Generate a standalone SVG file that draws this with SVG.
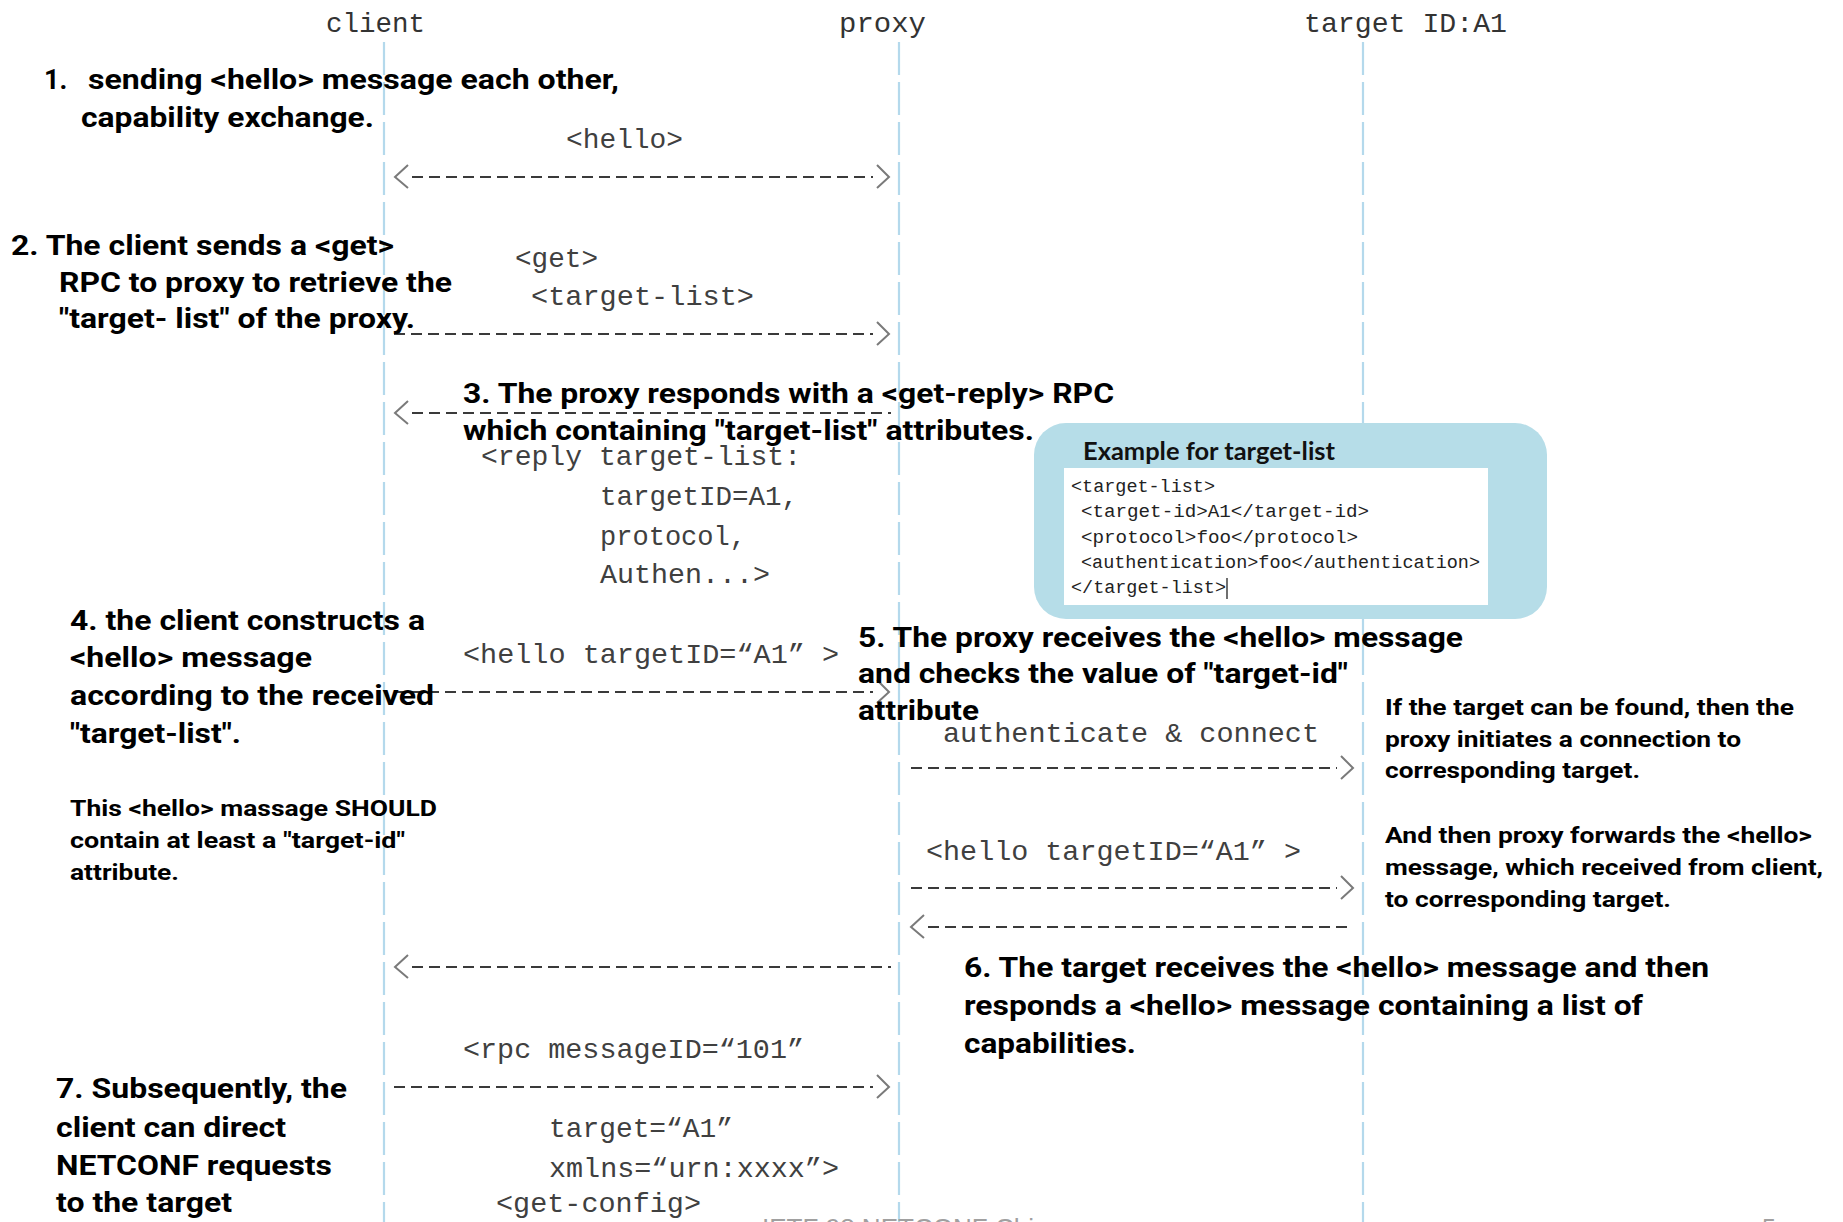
<svg xmlns="http://www.w3.org/2000/svg" width="1843" height="1222" viewBox="0 0 1843 1222">
<style>
.life{stroke:#b4d9ec;stroke-width:2.2;stroke-dasharray:33 7;fill:none}
.dash{stroke:#3a3a3a;stroke-width:2;stroke-dasharray:11 6;fill:none}
.chev{stroke:#7a7a7a;stroke-width:2;fill:none;stroke-linejoin:miter}
.mono{font-family:"Liberation Mono","DejaVu Sans Mono",monospace;font-size:28px;fill:#404040}
.hdr{font-family:"Liberation Mono","DejaVu Sans Mono",monospace;font-size:28px;fill:#333}
.step{font-family:Roboto,"Liberation Sans",sans-serif;font-weight:700;font-size:27px;fill:#000}
.note{font-family:Roboto,"Liberation Sans",sans-serif;font-weight:700;font-size:22px;fill:#000}
.code{font-family:"Liberation Mono","DejaVu Sans Mono",monospace;font-size:18.5px;fill:#222}
.title{font-family:Lato,"Open Sans","Liberation Sans",sans-serif;font-weight:700;font-size:24px;fill:#111}
.foot{font-family:"Liberation Sans",Arial,sans-serif;font-size:25px;fill:#a0a0a0}
</style>
<rect width="1843" height="1222" fill="#fff"/>

<g id="client">
<line class="life" x1="384" y1="42" x2="384" y2="1222"/>
<text class="hdr" x="326" y="32" textLength="99" lengthAdjust="spacingAndGlyphs">client</text>
</g>
<g id="proxy">
<line class="life" x1="899" y1="42" x2="899" y2="1222"/>
<text class="hdr" x="839" y="32" textLength="87" lengthAdjust="spacingAndGlyphs">proxy</text>
</g>
<g id="target">
<line class="life" x1="1363" y1="42" x2="1363" y2="1222"/>
<text class="hdr" x="1304" y="32" textLength="203" lengthAdjust="spacingAndGlyphs">target ID:A1</text>
</g>

<g id="connectors">
<!-- 1 hello bidirectional -->
<polyline class="chev" points="408,165 395,177 408,188"/>
<line class="dash" x1="412" y1="177" x2="873" y2="177"/>
<polyline class="chev" points="877,165 889,177 877,188"/>
<!-- 2 get right -->
<line class="dash" x1="394" y1="334" x2="873" y2="334"/>
<polyline class="chev" points="877,322 889,334 877,345"/>
<!-- 3 reply left -->
<polyline class="chev" points="408,401 395,413 408,424"/>
<line class="dash" x1="412" y1="413" x2="891" y2="413"/>
<!-- 4 hello target right -->
<line class="dash" x1="394" y1="692" x2="873" y2="692"/>
<polyline class="chev" points="877,680 889,692 877,703"/>
<!-- 5 authenticate right (proxy->target) -->
<line class="dash" x1="911" y1="768" x2="1337" y2="768"/>
<polyline class="chev" points="1341,756 1353,768 1341,779"/>
<!-- 6 hello forwarded right -->
<line class="dash" x1="911" y1="888" x2="1337" y2="888"/>
<polyline class="chev" points="1341,876 1353,888 1341,899"/>
<!-- 7 target reply left -->
<polyline class="chev" points="924,915 911,927 924,938"/>
<line class="dash" x1="928" y1="927" x2="1353" y2="927"/>
<!-- 8 proxy to client left -->
<polyline class="chev" points="408,955 395,967 408,978"/>
<line class="dash" x1="412" y1="967" x2="891" y2="967"/>
<!-- 9 rpc right -->
<line class="dash" x1="394" y1="1087" x2="873" y2="1087"/>
<polyline class="chev" points="877,1075 889,1087 877,1098"/>
</g>

<g id="msg-labels">
<text class="mono" x="566" y="148" textLength="117" lengthAdjust="spacingAndGlyphs">&lt;hello&gt;</text>
<text class="mono" x="515" y="267" textLength="83" lengthAdjust="spacingAndGlyphs">&lt;get&gt;</text>
<text class="mono" x="531" y="305" textLength="223" lengthAdjust="spacingAndGlyphs">&lt;target-list&gt;</text>
<text class="mono" x="481" y="465" textLength="320" lengthAdjust="spacingAndGlyphs">&lt;reply target-list:</text>
<text class="mono" x="600" y="505" textLength="198" lengthAdjust="spacingAndGlyphs">targetID=A1,</text>
<text class="mono" x="600" y="545" textLength="146" lengthAdjust="spacingAndGlyphs">protocol,</text>
<text class="mono" x="600" y="583" textLength="170" lengthAdjust="spacingAndGlyphs">Authen...&gt;</text>
<text class="mono" x="463" y="663" textLength="376" lengthAdjust="spacingAndGlyphs">&lt;hello targetID=“A1” &gt;</text>
<text class="mono" x="943" y="742" textLength="376" lengthAdjust="spacingAndGlyphs">authenticate &amp; connect</text>
<text class="mono" x="926" y="860" textLength="375" lengthAdjust="spacingAndGlyphs">&lt;hello targetID=“A1” &gt;</text>
<text class="mono" x="463" y="1058" textLength="341" lengthAdjust="spacingAndGlyphs">&lt;rpc messageID=“101”</text>
<text class="mono" x="549" y="1137" textLength="184" lengthAdjust="spacingAndGlyphs">target=“A1”</text>
<text class="mono" x="549" y="1177" textLength="290" lengthAdjust="spacingAndGlyphs">xmlns=“urn:xxxx”&gt;</text>
<text class="mono" x="496" y="1212" textLength="205" lengthAdjust="spacingAndGlyphs">&lt;get-config&gt;</text>
</g>

<g id="step1">
<text class="step" y="89"><tspan x="44">1.</tspan><tspan x="88" textLength="531" lengthAdjust="spacingAndGlyphs">sending &lt;hello&gt; message each other,</tspan></text>
<text class="step" x="81" y="127" textLength="293" lengthAdjust="spacingAndGlyphs">capability exchange.</text>
</g>

<g id="step2">
<text class="step" x="11" y="255" textLength="383" lengthAdjust="spacingAndGlyphs">2. The client sends a &lt;get&gt;</text>
<text class="step" x="59" y="292" textLength="393" lengthAdjust="spacingAndGlyphs">RPC to proxy to retrieve the</text>
<text class="step" x="59" y="328" textLength="356" lengthAdjust="spacingAndGlyphs">"target- list" of the proxy.</text>
</g>

<g id="step3">
<text class="step" x="463" y="403" textLength="651" lengthAdjust="spacingAndGlyphs">3. The proxy responds with a &lt;get-reply&gt; RPC</text>
<text class="step" x="463" y="440" textLength="571" lengthAdjust="spacingAndGlyphs">which containing "target-list" attributes.</text>
</g>

<g id="example-box">
<rect x="1034" y="423" width="513" height="196" rx="32" ry="32" fill="#b6dde8"/>
<text class="title" x="1083" y="460" textLength="252" lengthAdjust="spacingAndGlyphs">Example for target-list</text>
<rect x="1064" y="468" width="424" height="137" fill="#fff"/>
<text class="code" x="1071" y="492" textLength="144" lengthAdjust="spacingAndGlyphs">&lt;target-list&gt;</text>
<text class="code" x="1081" y="517" textLength="288" lengthAdjust="spacingAndGlyphs">&lt;target-id&gt;A1&lt;/target-id&gt;</text>
<text class="code" x="1081" y="543" textLength="277" lengthAdjust="spacingAndGlyphs">&lt;protocol&gt;foo&lt;/protocol&gt;</text>
<text class="code" x="1081" y="568" textLength="399" lengthAdjust="spacingAndGlyphs">&lt;authentication&gt;foo&lt;/authentication&gt;</text>
<text class="code" x="1071" y="593" textLength="155" lengthAdjust="spacingAndGlyphs">&lt;/target-list&gt;</text>
<line x1="1227" y1="578" x2="1227" y2="599" stroke="#222" stroke-width="1.3"/>
</g>

<g id="step4">
<text class="step" x="70" y="630" textLength="355" lengthAdjust="spacingAndGlyphs">4. the client constructs a</text>
<text class="step" x="70" y="667" textLength="242" lengthAdjust="spacingAndGlyphs">&lt;hello&gt; message</text>
<text class="step" x="70" y="705" textLength="364" lengthAdjust="spacingAndGlyphs">according to the received</text>
<text class="step" x="70" y="743" textLength="171" lengthAdjust="spacingAndGlyphs">"target-list".</text>
<text class="note" x="70" y="816" textLength="367" lengthAdjust="spacingAndGlyphs">This &lt;hello&gt; massage SHOULD</text>
<text class="note" x="70" y="848" textLength="335" lengthAdjust="spacingAndGlyphs">contain at least a "target-id"</text>
<text class="note" x="70" y="880" textLength="109" lengthAdjust="spacingAndGlyphs">attribute.</text>
</g>

<g id="step5">
<text class="step" x="858" y="647" textLength="605" lengthAdjust="spacingAndGlyphs">5. The proxy receives the &lt;hello&gt; message</text>
<text class="step" x="858" y="683" textLength="490" lengthAdjust="spacingAndGlyphs">and checks the value of "target-id"</text>
<text class="step" x="858" y="720" textLength="121" lengthAdjust="spacingAndGlyphs">attribute</text>
<text class="note" x="1385" y="715" textLength="409" lengthAdjust="spacingAndGlyphs">If the target can be found, then the</text>
<text class="note" x="1385" y="747" textLength="356" lengthAdjust="spacingAndGlyphs">proxy initiates a connection to</text>
<text class="note" x="1385" y="778" textLength="255" lengthAdjust="spacingAndGlyphs">corresponding target.</text>
<text class="note" x="1385" y="843" textLength="427" lengthAdjust="spacingAndGlyphs">And then proxy forwards the &lt;hello&gt;</text>
<text class="note" x="1385" y="875" textLength="438" lengthAdjust="spacingAndGlyphs">message, which received from client,</text>
<text class="note" x="1385" y="907" textLength="286" lengthAdjust="spacingAndGlyphs">to corresponding target.</text>
</g>

<g id="step6">
<text class="step" x="964" y="977" textLength="745" lengthAdjust="spacingAndGlyphs">6. The target receives the &lt;hello&gt; message and then</text>
<text class="step" x="964" y="1015" textLength="679" lengthAdjust="spacingAndGlyphs">responds a &lt;hello&gt; message containing a list of</text>
<text class="step" x="964" y="1053" textLength="172" lengthAdjust="spacingAndGlyphs">capabilities.</text>
</g>

<g id="step7">
<text class="step" x="56" y="1098" textLength="291" lengthAdjust="spacingAndGlyphs">7. Subsequently, the</text>
<text class="step" x="56" y="1137" textLength="230" lengthAdjust="spacingAndGlyphs">client can direct</text>
<text class="step" x="56" y="1175" textLength="276" lengthAdjust="spacingAndGlyphs">NETCONF requests</text>
<text class="step" x="56" y="1212" textLength="176" lengthAdjust="spacingAndGlyphs">to the target</text>
</g>

<g id="footer">
<text class="foot" x="762" y="1237" textLength="272" lengthAdjust="spacingAndGlyphs">IETF 98 NETCONF Chi</text>
<text class="foot" x="1762" y="1237">5</text>
</g>
</svg>
